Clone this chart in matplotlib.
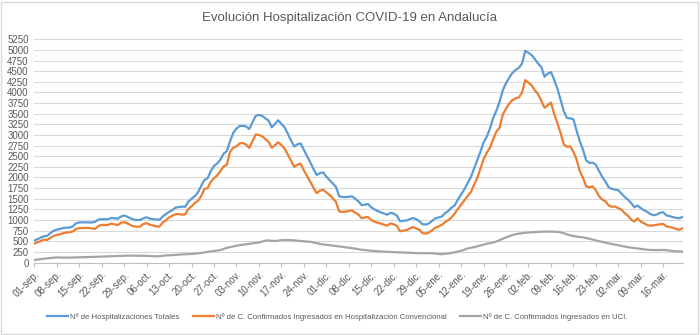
import matplotlib
matplotlib.use("Agg")
import matplotlib.pyplot as plt
from matplotlib.patches import Rectangle

# Daily series, 01-sep to 22-mar
hosp_totales = [
    515, 550, 585, 620, 625, 690, 745, 775, 790, 810,
    822, 822, 850, 920, 942, 944, 946, 944, 940, 960,
    1010, 1020, 1018, 1020, 1050, 1040, 1030, 1080, 1105, 1075,
    1040, 1010, 1000, 1000, 1040, 1065, 1030, 1020, 1012, 1005,
    1080, 1140, 1190, 1230, 1290, 1305, 1315, 1310, 1430, 1500,
    1560, 1650, 1800, 1940, 1980, 2150, 2270, 2330, 2420, 2560,
    2620, 2850, 3050, 3150, 3210, 3215, 3200, 3140, 3300, 3450,
    3470, 3450, 3390, 3340, 3180, 3260, 3345, 3260, 3180, 3030,
    2870, 2730, 2780, 2800, 2650, 2500, 2360, 2200, 2060, 2100,
    2120, 2020, 1940, 1860, 1780, 1560, 1540, 1540, 1545, 1556,
    1500, 1440, 1350, 1360, 1375, 1300, 1250, 1210, 1180, 1150,
    1125, 1170, 1150, 1100, 970, 980, 990, 1020, 1046, 1020,
    970, 900, 895, 920, 980, 1040, 1060, 1080, 1160, 1210,
    1290, 1340, 1480, 1600, 1720, 1860, 2000, 2200, 2400, 2600,
    2820, 2960, 3150, 3400, 3570, 3780, 4050, 4220, 4350, 4460,
    4530, 4580, 4680, 4980, 4930, 4880, 4780, 4680, 4600, 4370,
    4440, 4480, 4300, 4090, 3830, 3560, 3400, 3390, 3370, 3100,
    2850, 2650, 2400, 2340, 2350, 2300, 2150, 2010, 1900, 1770,
    1730, 1715, 1700, 1620, 1540, 1480, 1400, 1300, 1340, 1280,
    1230, 1190, 1140, 1110, 1130, 1170, 1180, 1110, 1090, 1070,
    1050, 1040, 1070,
]

hosp_convencional = [
    445, 475, 505, 540, 530, 580, 625, 650, 665, 690,
    705, 712, 730, 790, 806, 812, 815, 812, 800, 792,
    860, 885, 882, 885, 915, 900, 880, 935, 948, 920,
    880, 850, 843, 845, 905, 925, 890, 870, 850, 845,
    940, 990, 1060, 1100, 1135, 1140, 1125, 1130, 1260, 1320,
    1400, 1450, 1560, 1730, 1750, 1900, 1980, 2050, 2150, 2260,
    2300, 2600, 2700, 2735, 2800, 2810, 2775, 2695, 2850, 3010,
    3000, 2970, 2900, 2840, 2700, 2760, 2828, 2760, 2680, 2540,
    2400, 2250, 2300, 2326, 2170, 2030, 1900, 1760, 1630, 1690,
    1714, 1650, 1590, 1510, 1430, 1200, 1190, 1195, 1210, 1226,
    1170, 1130, 1040, 1060, 1069, 1000, 960, 935, 915, 890,
    865, 920, 900, 860, 735, 750, 762, 800, 833, 800,
    770, 690, 680, 710, 760, 820, 850, 885, 950, 1000,
    1060, 1150, 1260, 1360, 1460, 1560, 1650, 1820, 1980, 2200,
    2430, 2580, 2700, 2900, 3080, 3170, 3480, 3620, 3740, 3820,
    3860, 3880, 4000, 4290, 4230, 4165, 4050, 3960, 3800, 3640,
    3700, 3760, 3500, 3280, 3050, 2780, 2720, 2733, 2600, 2420,
    2150, 1990, 1790, 1770, 1790, 1700, 1560, 1480, 1440, 1340,
    1310, 1318, 1280, 1240, 1160, 1100, 1010, 965, 1040, 960,
    925, 880, 865, 875, 885, 900, 905, 850, 835, 815,
    790, 770, 805,
]

ingresados_uci = [
    60, 70, 80, 90, 98, 105, 112, 120, 118, 115,
    114, 116, 118, 120, 124, 126, 127, 128, 130, 132,
    136, 140, 142, 145, 148, 150, 153, 157, 160, 161,
    162, 161, 160, 159, 158, 157, 152, 148, 145, 150,
    158, 165, 170, 175, 180, 185, 190, 195, 198, 200,
    208, 215, 225, 238, 250, 262, 272, 282, 292, 320,
    345, 362, 380, 395, 410, 418, 425, 440, 450, 460,
    470, 490, 515, 520, 510, 505, 515, 525, 528, 527,
    527, 520, 512, 505, 497, 492, 488, 470, 455, 440,
    425, 417, 408, 398, 387, 377, 368, 358, 348, 338,
    325, 312, 300, 292, 283, 275, 270, 264, 258, 254,
    252, 248, 245, 242, 238, 236, 232, 228, 224, 220,
    218, 218, 220, 220, 215, 210, 200, 196, 205, 215,
    222, 240, 256, 275, 300, 330, 345, 360, 380, 400,
    420, 440, 455, 470, 495, 525, 560, 590, 620, 645,
    665, 680, 690, 700, 705, 710, 715, 720, 725, 727,
    727, 727, 725, 720, 710, 690, 660, 640, 625, 610,
    600, 590, 575, 560, 540, 520, 500, 485, 465, 450,
    437, 420, 405, 392, 375, 360, 350, 340, 330, 320,
    310, 300, 295, 293, 292, 294, 295, 290, 280, 270,
    265, 260, 256,
]

week_labels = [
    "01-sep.", "08-sep.", "15-sep.", "22-sep.", "29-sep.",
    "06-oct.", "13-oct.", "20-oct.", "27-oct.",
    "03-nov.", "10-nov.", "17-nov.", "24-nov.",
    "01-dic.", "08-dic.", "15-dic.", "22-dic.", "29-dic.",
    "05-ene.", "12-ene.", "19-ene.", "26-ene.",
    "02-feb.", "09-feb.", "16-feb.", "23-feb.",
    "02-mar.", "09-mar.", "16-mar.",
]

series_names = [
    "Nº de Hospitalizaciones Totales",
    "Nº de C. Confirmados Ingresados en Hospitalización Convencional",
    "Nº de C. Confirmados Ingresados en UCI.",
]
colors = ["#5B9BD5", "#ED7D31", "#A5A5A5"]

plt.rcParams["font.family"] = ["Liberation Sans", "DejaVu Sans"]
text_color = "#595959"

fig = plt.figure(figsize=(7.0, 3.35), dpi=100)
ax = fig.add_axes([0.049, 0.2164, 0.926, 0.6663])

days = list(range(len(hosp_totales)))
for vals, name, c in zip([hosp_totales, hosp_convencional, ingresados_uci], series_names, colors):
    ax.plot(days, vals, color=c, lw=1.6, label=name, solid_joinstyle="round")

ax.set_xlim(0, len(days) - 1)
ax.set_ylim(0, 5250)
ax.set_yticks(range(0, 5251, 250))
ax.tick_params(axis="y", length=0, labelsize=7, colors=text_color, pad=4)
ax.grid(axis="y", color="#D9D9D9", lw=0.8)
ax.set_axisbelow(True)

ax.set_xticks([7 * i for i in range(len(week_labels))])
ax.set_xticklabels(week_labels, rotation=45, ha="right", va="top",
                   rotation_mode="anchor", fontsize=7, color=text_color)
ax.tick_params(axis="x", length=3, color="#BFBFBF", pad=2)

for s in ["top", "right", "left"]:
    ax.spines[s].set_visible(False)
ax.spines["bottom"].set_color("#BFBFBF")
ax.spines["bottom"].set_linewidth(0.8)

fig.text(0.5, 0.945, "Evolución Hospitalización COVID-19 en Andalucía",
         ha="center", va="center", fontsize=9.5, color=text_color)

fig.legend(loc="center", bbox_to_anchor=(0.482, 0.053), ncol=3, frameon=False,
           fontsize=5.6, handlelength=2.7, columnspacing=1.8, handletextpad=0.2,
           labelcolor=text_color)

fig.patches.append(Rectangle((0.002, 0.004), 0.995, 0.99, transform=fig.transFigure,
                             fill=False, edgecolor="#D9D9D9", lw=1))

fig.savefig("out.png", dpi=100)
